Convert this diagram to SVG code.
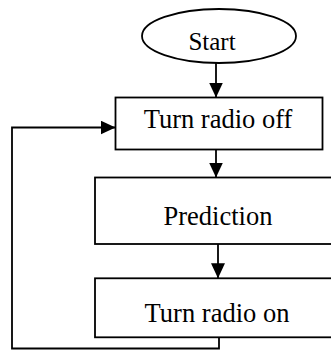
<svg xmlns="http://www.w3.org/2000/svg" width="331" height="350" viewBox="0 0 331 350">
<style>
.shape{fill:#fff;stroke:#000;stroke-width:1.8}
.lbl{font-family:"Liberation Serif","Times New Roman",serif;font-size:26.5px;fill:#000;text-anchor:middle}
.small{font-size:25px}
.edge{fill:none;stroke:#000;stroke-width:1.8}
</style>
<defs>
<marker id="ah" markerWidth="15" markerHeight="14" refX="15" refY="7" orient="auto" markerUnits="userSpaceOnUse">
<path d="M0,0 L15,7 L0,14 Z" fill="#000"/>
</marker>
</defs>
<rect width="331" height="350" fill="#fff"/>
<g id="connectors">
<line class="edge" x1="216" y1="63" x2="216" y2="97.5" marker-end="url(#ah)"/>
<line class="edge" x1="216" y1="149.5" x2="216" y2="177.5" marker-end="url(#ah)"/>
<line class="edge" x1="218" y1="244" x2="218" y2="278.3" marker-end="url(#ah)"/>
<polyline class="edge" points="219,337.3 219,348.5 12,348.5 12,127.5 115.5,127.5" marker-end="url(#ah)"/>
</g>
<g id="start">
<ellipse class="shape" cx="219" cy="36" rx="77" ry="27"/>
<text class="lbl small" x="212" y="50">Start</text>
</g>
<g id="radio-off">
<rect class="shape" x="115.5" y="97.5" width="207" height="52"/>
<text class="lbl" x="218" y="128">Turn radio off</text>
</g>
<g id="prediction">
<rect class="shape" x="95" y="177.5" width="250" height="66.5"/>
<text class="lbl" x="218" y="225">Prediction</text>
</g>
<g id="radio-on">
<rect class="shape" x="95" y="278.3" width="250" height="59"/>
<text class="lbl" x="217" y="321.5">Turn radio on</text>
</g>
</svg>
